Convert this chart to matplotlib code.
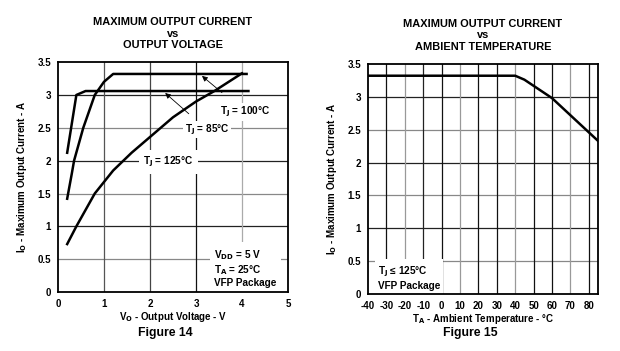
import matplotlib
matplotlib.use("Agg")
import matplotlib.pyplot as plt

plt.rcParams["font.family"] = ["Liberation Sans", "DejaVu Sans"]
plt.rcParams["font.weight"] = "bold"
plt.rcParams["mathtext.default"] = "bf"
plt.rcParams["axes.unicode_minus"] = False

# Figure 14: max output current vs output voltage
vo_85 = [0.2, 0.4, 0.6, 4.14]
io_85 = [2.12, 3.0, 3.06, 3.06]
vo_100 = [0.2, 0.3, 0.35, 0.55, 0.8, 1.0, 1.2, 4.1]
io_100 = [1.42, 1.8, 2.0, 2.5, 3.0, 3.2, 3.32, 3.32]
vo_125 = [0.2, 0.4, 0.8, 1.2, 1.6, 2.0, 2.5, 3.0, 3.4, 4.0]
io_125 = [0.73, 1.0, 1.5, 1.85, 2.12, 2.36, 2.66, 2.9, 3.06, 3.33]

# Figure 15: max output current vs ambient temperature
ta = [-40, 40, 45, 60, 85]
io_ta = [3.32, 3.32, 3.26, 2.98, 2.33]

yticks = [0, 0.5, 1, 1.5, 2, 2.5, 3, 3.5]
ytick_labels = ["0", "0.5", "1", "1.5", "2", "2.5", "3", "3.5"]

fig = plt.figure(figsize=(6.2, 3.51), dpi=100)
ax1 = fig.add_axes([0.0935, 0.168, 0.371, 0.655])
ax2 = fig.add_axes([0.5935, 0.162, 0.371, 0.656])

tick_kw = dict(length=0, labelsize=7, pad=5)
box = dict(boxstyle="square,pad=0.15", facecolor="white", edgecolor="none")
title_kw = dict(fontsize=7.9, fontweight="bold", linespacing=1.2, pad=10)

# ---- left chart ----
for y in [0.5, 1, 1.5, 2, 2.5, 3]:
    ax1.axhline(y, color="#222222" if y % 1 == 0 else "#888888", lw=0.9, zorder=1)
for x, c in zip([1, 2, 3, 4], ["#555555", "#444444", "#111111", "#aaaaaa"]):
    ax1.axvline(x, color=c, lw=0.9, zorder=1)

ax1.plot(vo_85, io_85, color="black", lw=1.8, zorder=3)
ax1.plot(vo_100, io_100, color="black", lw=1.8, zorder=3)
ax1.plot(vo_125, io_125, color="black", lw=1.8, zorder=3)

ax1.annotate("T$_J$ = 100°C", xy=(3.13, 3.29), xytext=(4.07, 2.74),
             ha="center", va="center", fontsize=7.2, fontweight="bold", bbox=box, zorder=4,
             arrowprops=dict(arrowstyle="-|>", color="black", lw=0.6,
                             shrinkA=12, shrinkB=0, mutation_scale=8))
ax1.annotate("T$_J$ = 85°C", xy=(2.33, 3.03), xytext=(3.24, 2.47),
             ha="center", va="center", fontsize=7.2, fontweight="bold", bbox=box, zorder=4,
             arrowprops=dict(arrowstyle="-|>", color="black", lw=0.6,
                             shrinkA=8, shrinkB=0, mutation_scale=8))
ax1.text(2.4, 1.98, "T$_J$ = 125°C", ha="center", va="center",
         fontsize=7.2, fontweight="bold",
         bbox=dict(boxstyle="square,pad=0.45", facecolor="white", edgecolor="none"),
         zorder=4)
ax1.text(3.4, 0.36, "V$_{DD}$ = 5 V\nT$_A$ = 25°C\nVFP Package",
         ha="left", va="center", fontsize=7.2, fontweight="bold", linespacing=1.1,
         bbox=dict(boxstyle="square,pad=0.45", facecolor="white", edgecolor="none"),
         zorder=4)

ax1.set_xlim(0, 5)
ax1.set_ylim(0, 3.5)
ax1.set_xticks([0, 1, 2, 3, 4, 5])
ax1.set_yticks(yticks)
ax1.set_yticklabels(ytick_labels)
ax1.set_xlabel("V$_O$ - Output Voltage - V", fontsize=7, fontweight="bold", labelpad=1)
ax1.set_ylabel("I$_O$ - Maximum Output Current - A", fontsize=7, fontweight="bold", labelpad=6)
ax1.set_title("MAXIMUM OUTPUT CURRENT\nvs\nOUTPUT VOLTAGE", **title_kw)

# ---- right chart ----
for y in [0.5, 1, 1.5, 2, 2.5, 3]:
    ax2.axhline(y, color="#222222" if y % 1 == 0 else "#888888", lw=0.9, zorder=1)
vcols = ["#111111", "#999999", "#222222", "#111111", "#999999", "#111111",
         "#111111", "#999999", "#111111", "#111111", "#999999", "#111111"]
for x, c in zip(range(-30, 90, 10), vcols):
    ax2.axvline(x, color=c, lw=0.9, zorder=1)

ax2.plot(ta, io_ta, color="black", lw=1.8, zorder=3)
ax2.text(-34.5, 0.25, "T$_J$ ≤ 125°C\nVFP Package", ha="left", va="center",
         fontsize=7.2, fontweight="bold", linespacing=1.2,
         bbox=dict(boxstyle="square,pad=0.3", facecolor="white", edgecolor="none"),
         zorder=4)

ax2.set_xlim(-40, 85)
ax2.set_ylim(0, 3.5)
ax2.set_xticks(list(range(-40, 90, 10)))
ax2.set_yticks(yticks)
ax2.set_yticklabels(ytick_labels)
ax2.set_xlabel("T$_A$ - Ambient Temperature - °C", fontsize=7, fontweight="bold", labelpad=1)
ax2.set_ylabel("I$_O$ - Maximum Output Current - A", fontsize=7, fontweight="bold", labelpad=6)
ax2.set_title("MAXIMUM OUTPUT CURRENT\nvs\nAMBIENT TEMPERATURE", **title_kw)

for ax in (ax1, ax2):
    ax.tick_params(**tick_kw)
    for lab in ax.get_xticklabels() + ax.get_yticklabels():
        lab.set_fontweight("bold")
    for s in ax.spines.values():
        s.set_linewidth(1.3)
        s.set_zorder(5)

fig.text(0.266, 0.05, "Figure 14", ha="center", va="center", fontsize=8.8, fontweight="bold")
fig.text(0.758, 0.05, "Figure 15", ha="center", va="center", fontsize=8.8, fontweight="bold")

fig.savefig("out.png", dpi=100)
